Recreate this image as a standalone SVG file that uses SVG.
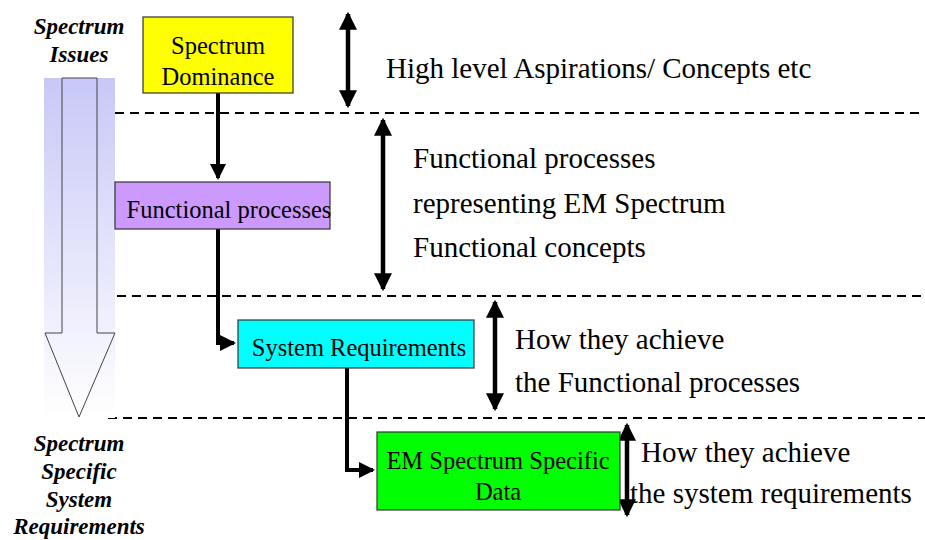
<svg xmlns="http://www.w3.org/2000/svg" width="925" height="540" viewBox="0 0 925 540">
  <style>
    text { font-family: "Liberation Serif", "Times New Roman", serif; fill: #000; }
    .box { stroke: #333; stroke-width: 1.2; }
    .note { font-size: 29px; }
    .boxtxt { font-size: 24.5px; text-anchor: middle; }
    .side { font-size: 23px; font-weight: bold; font-style: italic; text-anchor: middle; }
    .dash { stroke: #000; stroke-width: 2.2; stroke-dasharray: 9 6; fill: none; }
    .flow { stroke: #000; stroke-width: 4; fill: none; }
    .span { stroke: #000; stroke-width: 4.5; fill: none; }
  </style>
  <defs>
    <linearGradient id="fade" x1="0" y1="0" x2="0" y2="1">
      <stop offset="0" stop-color="#c8c8f8"/>
      <stop offset="1" stop-color="#ffffff"/>
    </linearGradient>
    <marker id="head" markerWidth="4" markerHeight="4" refX="3.5" refY="2" orient="auto" markerUnits="strokeWidth">
      <path d="M0,0 L4,2 L0,4 Z" fill="#000"/>
    </marker>
    <marker id="tip" markerWidth="4" markerHeight="4" refX="3.5" refY="2" orient="auto-start-reverse" markerUnits="strokeWidth">
      <path d="M0,0 L4,2 L0,4 Z" fill="#000"/>
    </marker>
  </defs>

  <!-- level separators -->
  <g id="separators">
    <line class="dash" x1="115" y1="113" x2="925" y2="113"/>
    <line class="dash" x1="117" y1="296" x2="925" y2="296"/>
    <line class="dash" x1="108" y1="418" x2="925" y2="418"/>
  </g>

  <!-- big downward arrow on the left -->
  <g id="issues-arrow">
    <rect x="44" y="78" width="71" height="340" fill="url(#fade)"/>
    <path d="M62,78 L97,78 L97,333 L115,333 L79,417 L45,333 L62,333 Z" fill="url(#fade)" stroke="#444" stroke-width="1"/>
    <text class="side" x="79" y="34">Spectrum</text>
    <text class="side" x="79" y="62">Issues</text>
    <text class="side" x="79" y="451">Spectrum</text>
    <text class="side" x="79" y="479">Specific</text>
    <text class="side" x="79" y="507">System</text>
    <text class="side" x="79" y="534">Requirements</text>
  </g>

  <!-- connectors -->
  <g id="connectors">
    <path class="flow" d="M218,93 L218,178" marker-end="url(#head)"/>
    <path class="flow" d="M218,229 L218,343 L234,343" marker-end="url(#head)"/>
    <path class="flow" d="M347,368 L347,470 L373,470" marker-end="url(#head)"/>
  </g>

  <!-- level span indicators -->
  <g id="spans">
    <line class="span" x1="348" y1="14" x2="348" y2="106" marker-start="url(#tip)" marker-end="url(#tip)"/>
    <line class="span" x1="383" y1="120" x2="383" y2="289" marker-start="url(#tip)" marker-end="url(#tip)"/>
    <line class="span" x1="495" y1="302" x2="495" y2="409" marker-start="url(#tip)" marker-end="url(#tip)"/>
    <line class="span" x1="627" y1="425" x2="627" y2="515" marker-start="url(#tip)" marker-end="url(#tip)"/>
  </g>

  <g id="spectrum-dominance">
    <rect class="box" x="143" y="17" width="150" height="76" fill="#ffff00"/>
    <text class="boxtxt" x="218" y="54">Spectrum</text>
    <text class="boxtxt" x="218" y="85">Dominance</text>
  </g>

  <g id="functional-processes">
    <rect class="box" x="115" y="182" width="215" height="47" fill="#cc99ff"/>
    <text class="boxtxt" x="229" y="218">Functional processes</text>
  </g>

  <g id="system-requirements">
    <rect class="box" x="238" y="320" width="236" height="48" fill="#00ffff"/>
    <text class="boxtxt" x="359" y="356">System Requirements</text>
  </g>

  <g id="em-data">
    <rect class="box" x="377" y="432" width="243" height="78" fill="#00ff00"/>
    <text class="boxtxt" x="498" y="469">EM Spectrum Specific</text>
    <text class="boxtxt" x="498" y="500">Data</text>
  </g>

  <!-- level descriptions -->
  <g id="descriptions">
    <text class="note" x="386" y="78">High level Aspirations/ Concepts etc</text>
    <text class="note" x="413" y="168">Functional processes</text>
    <text class="note" x="413" y="213">representing EM Spectrum</text>
    <text class="note" x="413" y="257">Functional concepts</text>
    <text class="note" x="515" y="349">How they achieve</text>
    <text class="note" x="515" y="392">the Functional processes</text>
    <text class="note" x="641" y="462">How they achieve</text>
    <text class="note" x="630" y="503">the system requirements</text>
  </g>
</svg>
